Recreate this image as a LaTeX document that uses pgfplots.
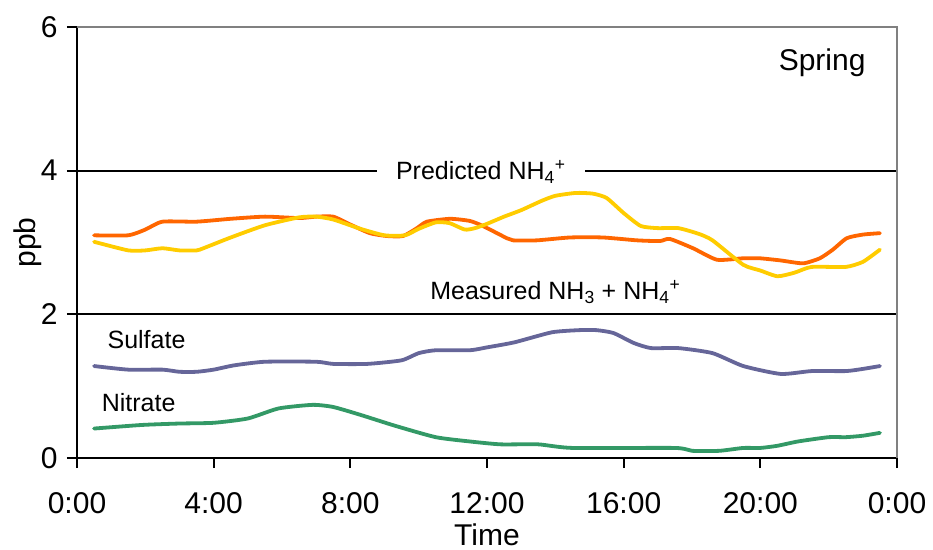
\documentclass[border=0pt]{standalone}
\usepackage{pgfplots}
\pgfplotsset{compat=1.18}
\usepackage{fontspec}
\setmainfont{Liberation Sans}

\definecolor{measured}{HTML}{FF6600}
\definecolor{predicted}{HTML}{FFCC00}
\definecolor{sulfate}{HTML}{666699}
\definecolor{nitrate}{HTML}{339966}

\newcommand{\bigfont}{\fontsize{30bp}{36bp}\selectfont}
\newcommand{\midfont}{\fontsize{25bp}{30bp}\selectfont}

\begin{document}
\begin{tikzpicture}
\begin{axis}[
  at={(0,0)}, anchor=south west,
  scale only axis, width=820bp, height=431bp,
  xmin=0, xmax=24, ymin=0, ymax=6,
  axis lines=left,
  axis line style={-, black, line width=2bp},
  xtick={0,4,8,12,16,20,24},
  xticklabels={0:00,4:00,8:00,12:00,16:00,20:00,0:00},
  ytick={0,2,4,6},
  yticklabels={0,2,4,6},
  /pgf/number format/assume math mode=true,
  tick align=outside,
  major tick length=10bp,
  tick style={black, line width=2bp},
  tick label style={font=\bigfont},
  xticklabel style={anchor=base, yshift=-45bp},
  yticklabel style={anchor=east, xshift=-6bp},
  ymajorgrids,
  grid style={black, line width=2bp},
  xlabel={Time},
  ylabel={ppb},
  label style={font=\bigfont},
  xlabel style={at={(axis description cs:0.5,0)}, anchor=base, yshift=-87bp},
  ylabel style={at={(axis description cs:0,0.5)}, anchor=center, rotate=0, yshift=49bp},
  clip=false,
  every axis plot/.append style={line width=3.8bp, line join=round, line cap=round,
    no markers, smooth, tension=0.35},
]

% frame on the top and right sides
\draw[gray, line width=2bp] (axis cs:0,6) -- (axis cs:24,6) -- (axis cs:24,0);

% measured NH3 + NH4+
\addplot[measured] coordinates {
 (0.5,3.10) (1.5,3.10) (2.0,3.18) (2.5,3.29) (3.5,3.29) (4.5,3.33)
 (5.5,3.36) (6.5,3.34) (7.0,3.36) (7.5,3.36) (8.0,3.25) (8.57,3.13)
 (9.07,3.09) (9.54,3.09) (9.95,3.20) (10.24,3.29) (10.92,3.33) (11.5,3.30)
 (11.88,3.23) (12.58,3.06) (12.76,3.03) (13.46,3.03) (14.43,3.07) (15.39,3.07)
 (16.39,3.03) (17.06,3.02) (17.35,3.05) (18.03,2.92) (18.73,2.76) (19.49,2.78)
 (19.99,2.78) (20.6,2.75) (21.25,2.71) (21.74,2.78) (22.12,2.90) (22.53,3.06)
 (23.0,3.11) (23.5,3.13)
};

% predicted NH4+
\addplot[predicted] coordinates {
 (0.5,3.01) (1.5,2.89) (2.0,2.89) (2.5,2.92) (3.0,2.89) (3.5,2.89)
 (3.7,2.92) (4.5,3.07) (5.5,3.24) (6.5,3.35) (7.0,3.36) (7.5,3.32)
 (8.3,3.19) (9.0,3.10) (9.6,3.10) (10.0,3.19) (10.5,3.28) (10.9,3.27)
 (11.35,3.18) (11.65,3.20) (12.0,3.26) (12.5,3.36) (13.0,3.45) (13.6,3.58)
 (14.0,3.65) (14.6,3.69) (15.1,3.68) (15.5,3.62) (16.0,3.41) (16.5,3.23)
 (17.0,3.20) (17.6,3.20) (18.2,3.12) (18.6,3.03) (19.5,2.69) (20.0,2.61)
 (20.5,2.53) (21.0,2.58) (21.5,2.66) (22.5,2.66) (23.0,2.73) (23.5,2.90)
};

% sulfate
\addplot[sulfate] coordinates {
 (0.5,1.28) (1.5,1.23) (2.5,1.23) (3.0,1.20) (3.5,1.20) (4.0,1.23)
 (4.6,1.29) (5.5,1.34) (7.0,1.34) (7.5,1.31) (8.5,1.31) (9.5,1.36)
 (10.0,1.46) (10.5,1.50) (11.5,1.50) (12.0,1.54) (12.8,1.61) (13.9,1.75)
 (14.7,1.78) (15.2,1.78) (15.7,1.74) (16.3,1.60) (16.8,1.53) (17.6,1.53)
 (18.6,1.46) (19.5,1.28) (20.6,1.17) (21.5,1.21) (22.5,1.21) (23.0,1.24)
 (23.5,1.28)
};

% nitrate
\addplot[nitrate] coordinates {
 (0.5,0.41) (1.9,0.46) (3.0,0.48) (4.0,0.49) (5.0,0.55) (5.9,0.69)
 (6.9,0.74) (7.5,0.71) (8.3,0.60) (9.3,0.45) (10.5,0.29) (11.5,0.23)
 (12.4,0.19) (13.5,0.19) (14.5,0.14) (17.5,0.14) (18.0,0.10) (18.8,0.10)
 (19.5,0.14) (20.0,0.14) (20.5,0.17) (21.1,0.23) (22.0,0.29) (22.5,0.29)
 (23.0,0.31) (23.5,0.35)
};

\node[anchor=base east, font=\bigfont] at (axis cs:23.18,5.39) {Spring};
\node[anchor=base, font=\midfont, fill=white, inner xsep=19bp, inner ysep=2bp]
  at (axis cs:11.82,3.875) {Predicted NH\textsubscript{4}\textsuperscript{+}};
\node[anchor=base, font=\midfont] at (axis cs:14.0,2.20)
  {Measured NH\textsubscript{3} + NH\textsubscript{4}\textsuperscript{+}};
\node[anchor=base west, font=\midfont, inner sep=0pt] at (axis cs:0.89,1.53) {Sulfate};
\node[anchor=base west, font=\midfont, inner sep=0pt] at (axis cs:0.72,0.645) {Nitrate};
\end{axis}
\path[use as bounding box] (-77bp,-92bp) rectangle (856bp,458bp);
\end{tikzpicture}
\end{document}
